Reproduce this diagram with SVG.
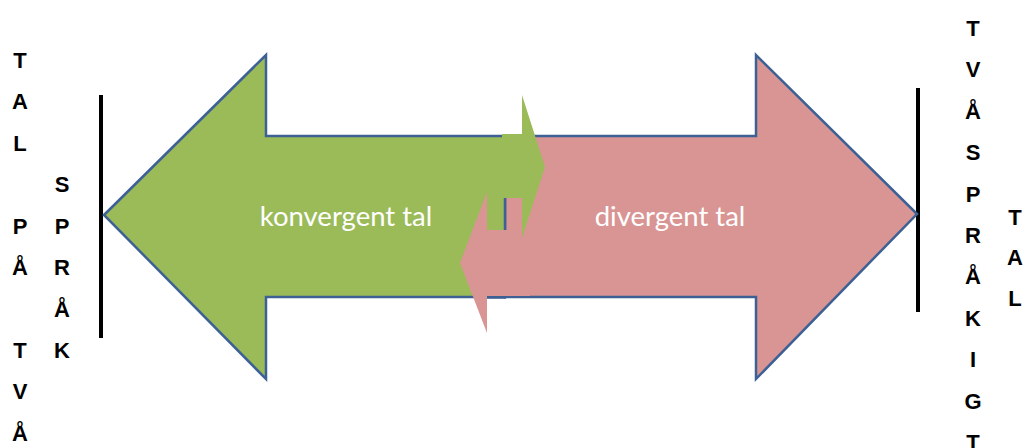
<svg xmlns="http://www.w3.org/2000/svg" width="1026" height="448" viewBox="0 0 1026 448">
<style>
.arrowG{fill:#9bbb59;stroke:#3d6195;stroke-width:2.5;stroke-linejoin:miter}
.arrowP{fill:#d99594;stroke:#3d6195;stroke-width:2.5;stroke-linejoin:miter}
.fillG{fill:#9bbb59;stroke:none}
.fillP{fill:#d99594;stroke:none}
.bar{stroke:#000;stroke-width:4}
.lbl{font-family:Lato,"Open Sans",sans-serif;font-size:27.5px;fill:#ffffff;text-anchor:middle}
.ltr{font-family:"Liberation Sans",Arial,sans-serif;font-weight:bold;font-size:22px;fill:#000;text-anchor:middle}
</style>
<rect width="1026" height="448" fill="#ffffff"/>
<g id="connectors">
<line class="bar" x1="101" y1="95" x2="101" y2="338"/>
<line class="bar" x1="918" y1="88" x2="918" y2="312"/>
</g>
<g id="divergent">
<polygon class="arrowP" points="917,214 756,55 756,136 505,136 505,297 756,297 756,379"/>
</g>
<g id="konvergent">
<polygon class="arrowG" points="104,215 266,55 266,136 505,136 505,297 266,297 266,379"/>
</g>
<g id="overlap">
<polygon class="fillP" points="507,198 530,198 530,296 487,296 487,333 460,263 487,192 487,230 507,230"/>
<line x1="487" y1="297.5" x2="506" y2="297.5" stroke="#3d6195" stroke-width="2.5"/>
<polygon class="fillG" points="502,134 522,134 522,95 545,167 522,238 522,198 502,198"/>
</g>
<g id="labels">
<text class="lbl" x="346" y="226">konvergent tal</text>
<text class="lbl" x="670" y="226">divergent tal</text>
</g>
<g id="left-text" class="ltr">
<text x="20" y="68">T</text>
<text x="20" y="109">A</text>
<text x="20" y="151">L</text>
<text x="20" y="234">P</text>
<text x="20" y="275">Å</text>
<text x="20" y="358">T</text>
<text x="20" y="399">V</text>
<text x="20" y="441">Å</text>
<text x="62" y="192">S</text>
<text x="62" y="234">P</text>
<text x="62" y="275">R</text>
<text x="62" y="317">Å</text>
<text x="62" y="358">K</text>
</g>
<g id="right-text" class="ltr">
<text x="973" y="36">T</text>
<text x="973" y="77">V</text>
<text x="973" y="119">Å</text>
<text x="973" y="160">S</text>
<text x="973" y="202">P</text>
<text x="973" y="243">R</text>
<text x="973" y="284">Å</text>
<text x="973" y="326">K</text>
<text x="973" y="367">I</text>
<text x="973" y="409">G</text>
<text x="973" y="450">T</text>
<text x="1015" y="225">T</text>
<text x="1015" y="265">A</text>
<text x="1015" y="306">L</text>
</g>
</svg>
